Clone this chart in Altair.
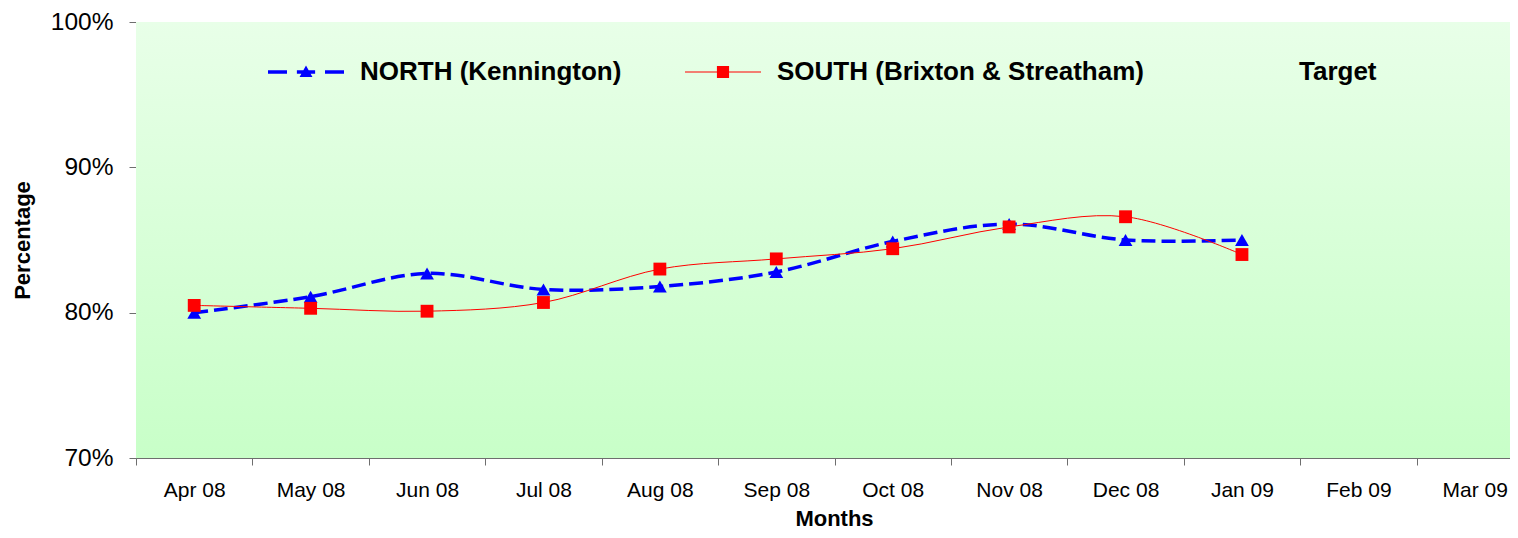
import altair as alt
import pandas as pd

# ---- data ----
months = ["Apr 08", "May 08", "Jun 08", "Jul 08", "Aug 08", "Sep 08",
          "Oct 08", "Nov 08", "Dec 08", "Jan 09", "Feb 09", "Mar 09"]
north_values = [0.800, 0.811, 0.827, 0.816, 0.818, 0.828, 0.849, 0.861, 0.850, 0.850]
south_values = [0.805, 0.803, 0.801, 0.807, 0.830, 0.837, 0.844, 0.859, 0.866, 0.840]
series_names = ["NORTH (Kennington)", "SOUTH (Brixton & Streatham)", "Target"]
y_ticks = [0.7, 0.8, 0.9, 1.0]

rows = []
for m, v in zip(months, north_values):
    rows.append({"month": m, "series": series_names[0], "value": v})
for m, v in zip(months, south_values):
    rows.append({"month": m, "series": series_names[1], "value": v})
df = pd.DataFrame(rows)

FONT = "Liberation Sans"
BLUE = "#0000ff"
RED = "#ff0000"
W, H = 1374, 436

x = alt.X(
    "month:N", sort=months, bandPosition=0.5,
    scale=alt.Scale(type="band", domain=months, range=[0, 1397],
                    paddingInner=0, paddingOuter=0),
    axis=alt.Axis(title="Months", tickBand="extent", tickSize=7,
                  labelAngle=0, labelPadding=14, labelFontSize=21,
                  labelFont=FONT, labelColor="#000000",
                  domainColor="#6e6e6e", tickColor="#6e6e6e",
                  titleFont=FONT, titleFontSize=22, titleFontWeight="bold",
                  titleColor="#000000", titleX=698, titleY=67,
                  titleAlign="center", titleBaseline="alphabetic",
                  grid=False),
)
y = alt.Y(
    "value:Q",
    scale=alt.Scale(domain=[0.7, 1.0], nice=False, zero=False),
    axis=alt.Axis(title="Percentage", values=y_ticks, format=".0%",
                  tickSize=7, labelPadding=16, labelFontSize=24.5,
                  labelFont=FONT, labelColor="#000000",
                  domainColor="#6e6e6e", tickColor="#6e6e6e",
                  titleFont=FONT, titleFontSize=22, titleFontWeight="bold",
                  titleColor="#000000", titleX=-114, titleY=218,
                  titleAlign="center", titleBaseline="middle",
                  grid=False),
)

gradient = alt.LinearGradient(
    gradient="linear", x1=0, y1=0, x2=0, y2=1,
    stops=[alt.GradientStop(color="#e8ffe8", offset=0),
           alt.GradientStop(color="#c8ffc8", offset=1)],
)

background = alt.Chart(pd.DataFrame({"bg": [0]})).mark_rect(
    fill=gradient, strokeWidth=0
).encode(x=alt.value(0), x2=alt.value(W + 30), y=alt.value(0), y2=alt.value(H))

base = alt.Chart(df)

north_line = base.transform_filter(alt.datum.series == series_names[0]).mark_line(
    interpolate="catmull-rom", color=BLUE, strokeWidth=3.5, strokeDash=[14, 6]
).encode(x=x, y=y)
north_pts = base.transform_filter(alt.datum.series == series_names[0]).mark_point(
    shape="triangle-up", filled=True, color=BLUE, size=190, opacity=1
).encode(x=x, y=y)
south_line = base.transform_filter(alt.datum.series == series_names[1]).mark_line(
    interpolate="catmull-rom", color=RED, strokeWidth=1
).encode(x=x, y=y)
south_pts = base.transform_filter(alt.datum.series == series_names[1]).mark_point(
    shape="square", filled=True, color=RED, size=165, opacity=1
).encode(x=x, y=y)

# legend symbols: line + marker drawn as filled paths in a [-1,1] box
legend_paths = [
    "M-1,-0.045H-0.5V0.045H-1Z M-0.24,-0.045H0.24V0.045H-0.24Z "
    "M0.5,-0.045H1V0.045H0.5Z M0,-0.17L0.17,0.13H-0.17Z",
    "M-1,-0.013H1V0.013H-1Z M-0.16,-0.16H0.16V0.16H-0.16Z",
    "M0,0H0.001V0.001H0Z",
]
legend_colors = [BLUE, RED, "transparent"]

legend = alt.Legend(
    title=None, orient="none", legendX=132, legendY=12,
    direction="horizontal", columns=3, columnPadding=63,
    labelFont=FONT, labelFontSize=26, labelFontWeight="bold",
    labelColor="#000000", labelOffset=16, labelLimit=0,
    symbolSize=5776, symbolStrokeWidth=0, symbolOpacity=1, padding=0,
)

legend_layer = alt.Chart(pd.DataFrame({"series": series_names})).transform_filter(
    "false"
).mark_point(filled=True, size=5776, opacity=1).encode(
    shape=alt.Shape("series:N", scale=alt.Scale(domain=series_names, range=legend_paths), legend=legend),
    color=alt.Color("series:N", scale=alt.Scale(domain=series_names, range=legend_colors), legend=legend),
)

chart = alt.layer(background, north_line, north_pts, south_line, south_pts, legend_layer).properties(
    width=W, height=H,
    autosize=alt.AutoSizeParams(type="none"),
    padding={"left": 128, "top": 14, "right": 0, "bottom": 72},
    background="#ffffff",
).configure_view(strokeWidth=0).configure(font=FONT)

chart.save("out.html", embed_options={"renderer": "svg", "actions": False})
